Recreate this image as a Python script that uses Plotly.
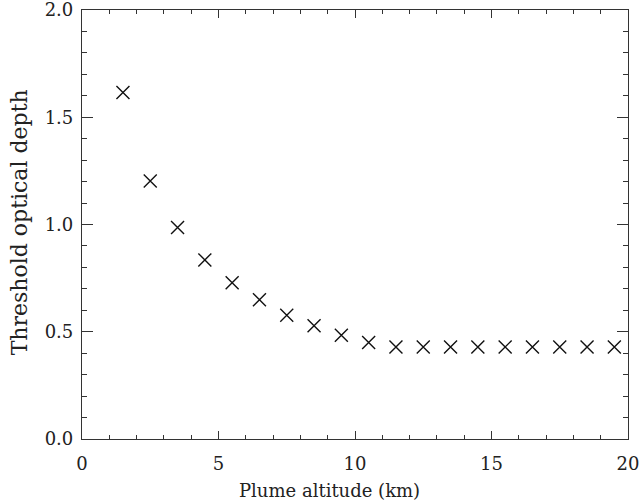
import plotly.graph_objects as go

altitude_km = [1.5, 2.5, 3.5, 4.5, 5.5, 6.5, 7.5, 8.5, 9.5, 10.5,
               11.5, 12.5, 13.5, 14.5, 15.5, 16.5, 17.5, 18.5, 19.5]
threshold_depth = [1.615, 1.203, 0.986, 0.835, 0.728, 0.649, 0.577, 0.528, 0.484, 0.450,
                   0.429, 0.429, 0.429, 0.429, 0.429, 0.429, 0.429, 0.429, 0.429]
x_ticks = [0, 5, 10, 15, 20]
y_ticks = [0.0, 0.5, 1.0, 1.5, 2.0]
y_tick_labels = ["0.0", "0.5", "1.0", "1.5", "2.0"]
x_title = "Plume altitude (km)"
y_title = "Threshold optical depth"

font_family = "DejaVu Serif"
axis_color = "#333333"
text_color = "#222222"

fig = go.Figure()
fig.add_trace(go.Scatter(
    x=altitude_km, y=threshold_depth, mode="markers",
    marker=dict(symbol="x-thin", size=13, line=dict(width=1.4, color="#111111"), color="#111111"),
    showlegend=False,
))
# invisible helper trace for the mirrored (top/right) tick axes
fig.add_trace(go.Scatter(x=[altitude_km[0]], y=[threshold_depth[0]], xaxis="x2", yaxis="y2",
                         mode="markers", marker=dict(opacity=0), showlegend=False, hoverinfo="skip"))

common = dict(
    showline=True, linecolor=axis_color, linewidth=1.2,
    ticks="inside", tickcolor=axis_color, tickwidth=1.2,
    showgrid=False, zeroline=False, automargin=False,
)
xminor = dict(ticks="inside", ticklen=4, dtick=1, tickcolor=axis_color, tickwidth=1.2)
yminor = dict(ticks="inside", ticklen=5, dtick=0.1, tickcolor=axis_color, tickwidth=1.2)
tickfont = dict(family=font_family, size=18, color=text_color)

fig.update_layout(
    width=641, height=501,
    margin=dict(l=82, r=13, t=10, b=62),
    plot_bgcolor="white", paper_bgcolor="white",
    xaxis=dict(range=[0, 20], tickvals=x_ticks, ticktext=[str(v) for v in x_ticks], ticklen=8,
               minor=xminor, tickfont=tickfont, ticklabeloverflow="allow",
               ticklabelstandoff=8, **common),
    yaxis=dict(range=[0, 2.0], tickvals=y_ticks, ticktext=y_tick_labels, ticklen=11,
               minor=yminor, tickfont=tickfont, ticklabeloverflow="allow",
               ticklabelstandoff=4, **common),
    xaxis2=dict(range=[0, 20], tickvals=x_ticks, ticklen=8, minor=xminor, overlaying="x",
                side="top", anchor="y2", showticklabels=False, **common),
    yaxis2=dict(range=[0, 2.0], tickvals=y_ticks, ticklen=11, minor=yminor, overlaying="y",
                side="right", anchor="x2", showticklabels=False, **common),
    annotations=[
        dict(text=x_title, xref="paper", yref="paper", x=0.454, y=0, yshift=-51,
             xanchor="center", yanchor="middle", showarrow=False,
             font=dict(family=font_family, size=18, color=text_color)),
        dict(text=y_title, xref="paper", yref="paper", x=0, y=0.505, xshift=-63,
             xanchor="center", yanchor="middle", textangle=-90, showarrow=False,
             font=dict(family=font_family, size=22, color=text_color)),
    ],
)

fig.write_html("out.html", config={"displayModeBar": False},
               post_script="document.body.style.margin='0px';")
